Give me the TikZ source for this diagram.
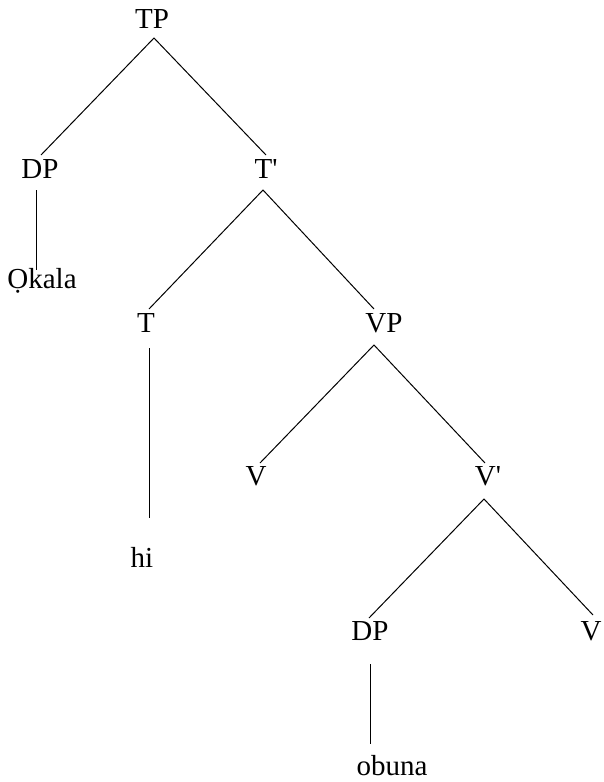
\documentclass[tikz,border=0pt]{standalone}
\usepackage{fontspec}
\setmainfont{Liberation Serif}
\begin{document}
\begin{tikzpicture}[x=1pt,y=-1pt,
  lbl/.style={anchor=base,inner sep=0pt,font=\fontsize{29}{32}\selectfont},
  branch/.style={line width=1pt,black}]
\useasboundingbox (0,0) rectangle (603,782);
% category labels and words
\node[lbl] (tp)   at (152,28)  {TP};
\node[lbl] (dp1)  at (40,178)  {DP};
\node[lbl] (tbar) at (266,178) {T\textquotesingle};
\node[lbl] (okala) at (42,288) {Ọkala};
\node[lbl] (t)    at (146,332) {T};
\node[lbl] (vp)   at (384,332) {VP};
\node[lbl] (v1)   at (256,485) {V};
\node[lbl] (vbar) at (488,485) {V\textquotesingle};
\node[lbl] (hi)   at (142,567) {hi};
\node[lbl] (dp2)  at (370,640) {DP};
\node[lbl] (v2)   at (591,640) {V};
\node[lbl] (obuna) at (392,775) {obuna};
% attachment points of the branches
\coordinate (tp-b)   at (154,38);
\coordinate (dp1-t)  at (41,155);
\coordinate (tbar-t) at (266,155);
\coordinate (dp1-b)  at (36,190);
\coordinate (okala-t) at (36,270);
\coordinate (tbar-b) at (263,190);
\coordinate (t-t)    at (149,309);
\coordinate (vp-t)   at (374,309);
\coordinate (t-b)    at (149,348);
\coordinate (hi-t)   at (149,518);
\coordinate (vp-b)   at (374,345);
\coordinate (v1-t)   at (260,463);
\coordinate (vbar-t) at (485,463);
\coordinate (vbar-b) at (484,499);
\coordinate (dp2-t)  at (369,618);
\coordinate (v2-t)   at (593,615);
\coordinate (dp2-b)  at (370,664);
\coordinate (obuna-t) at (370,744);
% branches
\draw[branch] (dp1-t) -- (tp-b) -- (tbar-t);
\draw[branch] (dp1-b) -- (okala-t);
\draw[branch] (t-t) -- (tbar-b) -- (vp-t);
\draw[branch] (t-b) -- (hi-t);
\draw[branch] (v1-t) -- (vp-b) -- (vbar-t);
\draw[branch] (dp2-t) -- (vbar-b) -- (v2-t);
\draw[branch] (dp2-b) -- (obuna-t);
\end{tikzpicture}
\end{document}
